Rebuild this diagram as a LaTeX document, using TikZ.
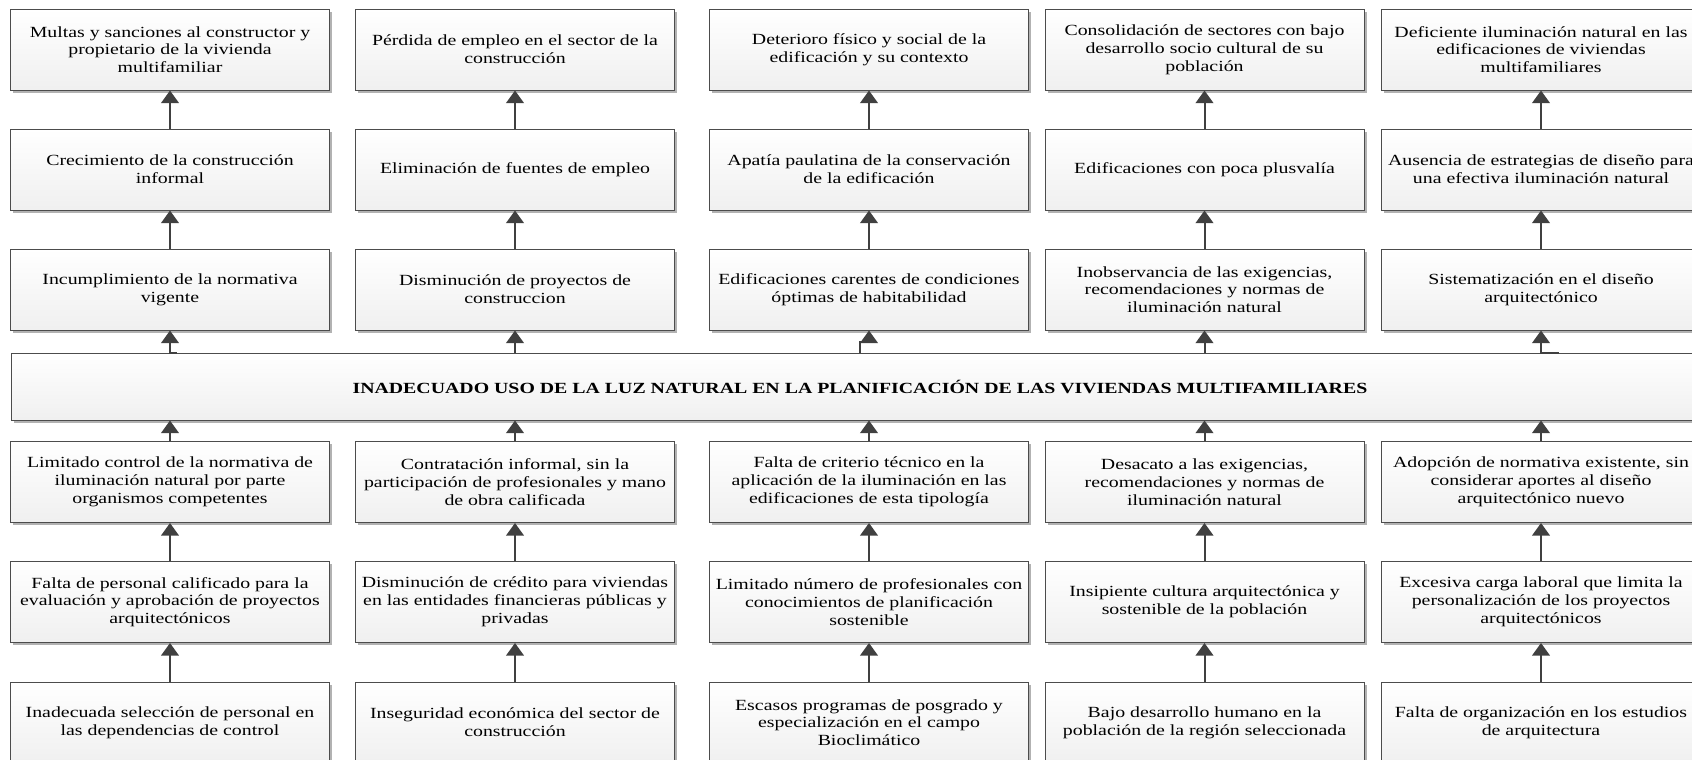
\documentclass[tikz,border=0pt]{standalone}
\usepackage{fontspec}
\setmainfont{Liberation Serif}[FakeStretch=1.28]
\usetikzlibrary{arrows.meta,shadows}

\tikzset{
  caja/.style={draw=black!70, line width=0.5pt, top color=white, bottom color=black!6,
    drop shadow={shadow xshift=1.4pt, shadow yshift=-1.4pt, fill=black!30, opacity=1},
    minimum width=159.5pt, minimum height=40.5pt, align=center, inner sep=0pt,
    font=\fontsize{7.75pt}{8.9pt}\selectfont},
  problema/.style={caja, minimum width=849pt, minimum height=33.5pt,
    font=\fontsize{7.75pt}{8.9pt}\selectfont\bfseries},
  flecha/.style={-{Triangle[length=6.3pt,width=8.8pt]}, line width=1pt, draw=black!75},
}

\begin{document}
\begin{tikzpicture}[x=0.5pt, y=-0.5pt]
    \clip (0,0) rectangle (1692,760);

    % Efectos (fila superior)
    \node[caja] (ef11) at (170,49.5) {Multas y sanciones al constructor y\\propietario de la vivienda\\multifamiliar};
    \node[caja] (ef12) at (515,49.5) {Pérdida de empleo en el sector de la\\construcción};
    \node[caja] (ef13) at (869,49.5) {Deterioro físico y social de la\\edificación y su contexto};
    \node[caja] (ef14) at (1204.5,49.5) {Consolidación de sectores con bajo\\desarrollo socio cultural de su\\población};
    \node[caja] (ef15) at (1541,49.5) {Deficiente iluminación natural en las\\edificaciones de viviendas\\multifamiliares};

    % Efectos (fila media)
    \node[caja] (ef21) at (170,169.5) {Crecimiento de la construcción\\informal};
    \node[caja] (ef22) at (515,169.5) {Eliminación de fuentes de empleo};
    \node[caja] (ef23) at (869,169.5) {Apatía paulatina de la conservación\\de la edificación};
    \node[caja] (ef24) at (1204.5,169.5) {Edificaciones con poca plusvalía};
    \node[caja] (ef25) at (1541,169.5) {Ausencia de estrategias de diseño para\\una efectiva iluminación natural};

    % Efectos directos
    \node[caja] (ef31) at (170,289.5) {Incumplimiento de la normativa\\vigente};
    \node[caja] (ef32) at (515,289.5) {Disminución de proyectos de\\construccion};
    \node[caja] (ef33) at (869,289.5) {Edificaciones carentes de condiciones\\óptimas de habitabilidad};
    \node[caja] (ef34) at (1204.5,289.5) {Inobservancia de las exigencias,\\recomendaciones y normas de\\iluminación natural};
    \node[caja] (ef35) at (1541,289.5) {Sistematización en el diseño\\arquitectónico};

    % Problema central
    \node[problema] (prob) at (860,386.5) {INADECUADO USO DE LA LUZ NATURAL EN LA PLANIFICACIÓN DE LAS VIVIENDAS MULTIFAMILIARES};

    % Causas directas
    \node[caja] (ca11) at (170,482) {Limitado control de la normativa de\\iluminación natural por parte\\organismos competentes};
    \node[caja] (ca12) at (515,482) {Contratación informal, sin la\\participación de profesionales y mano\\de obra calificada};
    \node[caja] (ca13) at (869,482) {Falta de criterio técnico en la\\aplicación de la iluminación en las\\edificaciones de esta tipología};
    \node[caja] (ca14) at (1204.5,482) {Desacato a las exigencias,\\recomendaciones y normas de\\iluminación natural};
    \node[caja] (ca15) at (1541,482) {Adopción de normativa existente, sin\\considerar aportes al diseño\\arquitectónico nuevo};

    % Causas (fila media)
    \node[caja] (ca21) at (170,602) {Falta de personal calificado para la\\evaluación y aprobación de proyectos\\arquitectónicos};
    \node[caja] (ca22) at (515,602) {Disminución de crédito para viviendas\\en las entidades financieras públicas y\\privadas};
    \node[caja] (ca23) at (869,602) {Limitado número de profesionales con\\conocimientos de planificación\\sostenible};
    \node[caja] (ca24) at (1204.5,602) {Insipiente cultura arquitectónica y\\sostenible de la población};
    \node[caja] (ca25) at (1541,602) {Excesiva carga laboral que limita la\\personalización de los proyectos\\arquitectónicos};

    % Causas de fondo
    \node[caja] (ca31) at (170,722.5) {Inadecuada selección de personal en\\las dependencias de control};
    \node[caja] (ca32) at (515,722.5) {Inseguridad económica del sector de\\construcción};
    \node[caja] (ca33) at (869,722.5) {Escasos programas de posgrado y\\especialización en el campo\\Bioclimático};
    \node[caja] (ca34) at (1204.5,722.5) {Bajo desarrollo humano en la\\población de la región seleccionada};
    \node[caja] (ca35) at (1541,722.5) {Falta de organización en los estudios\\de arquitectura};

    % Flechas entre efectos
    \draw[flecha] (ef21) -- (ef11);
    \draw[flecha] (ef22) -- (ef12);
    \draw[flecha] (ef23) -- (ef13);
    \draw[flecha] (ef24) -- (ef14);
    \draw[flecha] (ef25) -- (ef15);
    \draw[flecha] (ef31) -- (ef21);
    \draw[flecha] (ef32) -- (ef22);
    \draw[flecha] (ef33) -- (ef23);
    \draw[flecha] (ef34) -- (ef24);
    \draw[flecha] (ef35) -- (ef25);

    % Problema -> efectos directos
    \draw[flecha] (prob.north -| ef31) ++(7.3,0) -| (ef31);
    \draw[flecha] (prob.north -| ef32) -- (ef32);
    \draw[flecha] (prob.north -| ef33) ++(-9.5,0) -- ++(0,-11) -| (ef33);
    \draw[flecha] (prob.north -| ef34) -- (ef34);
    \draw[flecha] (prob.north -| ef35) ++(18,0) -| (ef35);

    % Causas directas -> problema
    \draw[flecha] (ca11) -- (prob.south -| ca11);
    \draw[flecha] (ca12) -- (prob.south -| ca12);
    \draw[flecha] (ca13) -- (prob.south -| ca13);
    \draw[flecha] (ca14) -- (prob.south -| ca14);
    \draw[flecha] (ca15) -- (prob.south -| ca15);

    % Flechas entre causas
    \draw[flecha] (ca21) -- (ca11);
    \draw[flecha] (ca22) -- (ca12);
    \draw[flecha] (ca23) -- (ca13);
    \draw[flecha] (ca24) -- (ca14);
    \draw[flecha] (ca25) -- (ca15);
    \draw[flecha] (ca31) -- (ca21);
    \draw[flecha] (ca32) -- (ca22);
    \draw[flecha] (ca33) -- (ca23);
    \draw[flecha] (ca34) -- (ca24);
    \draw[flecha] (ca35) -- (ca25);
\end{tikzpicture}
\end{document}
